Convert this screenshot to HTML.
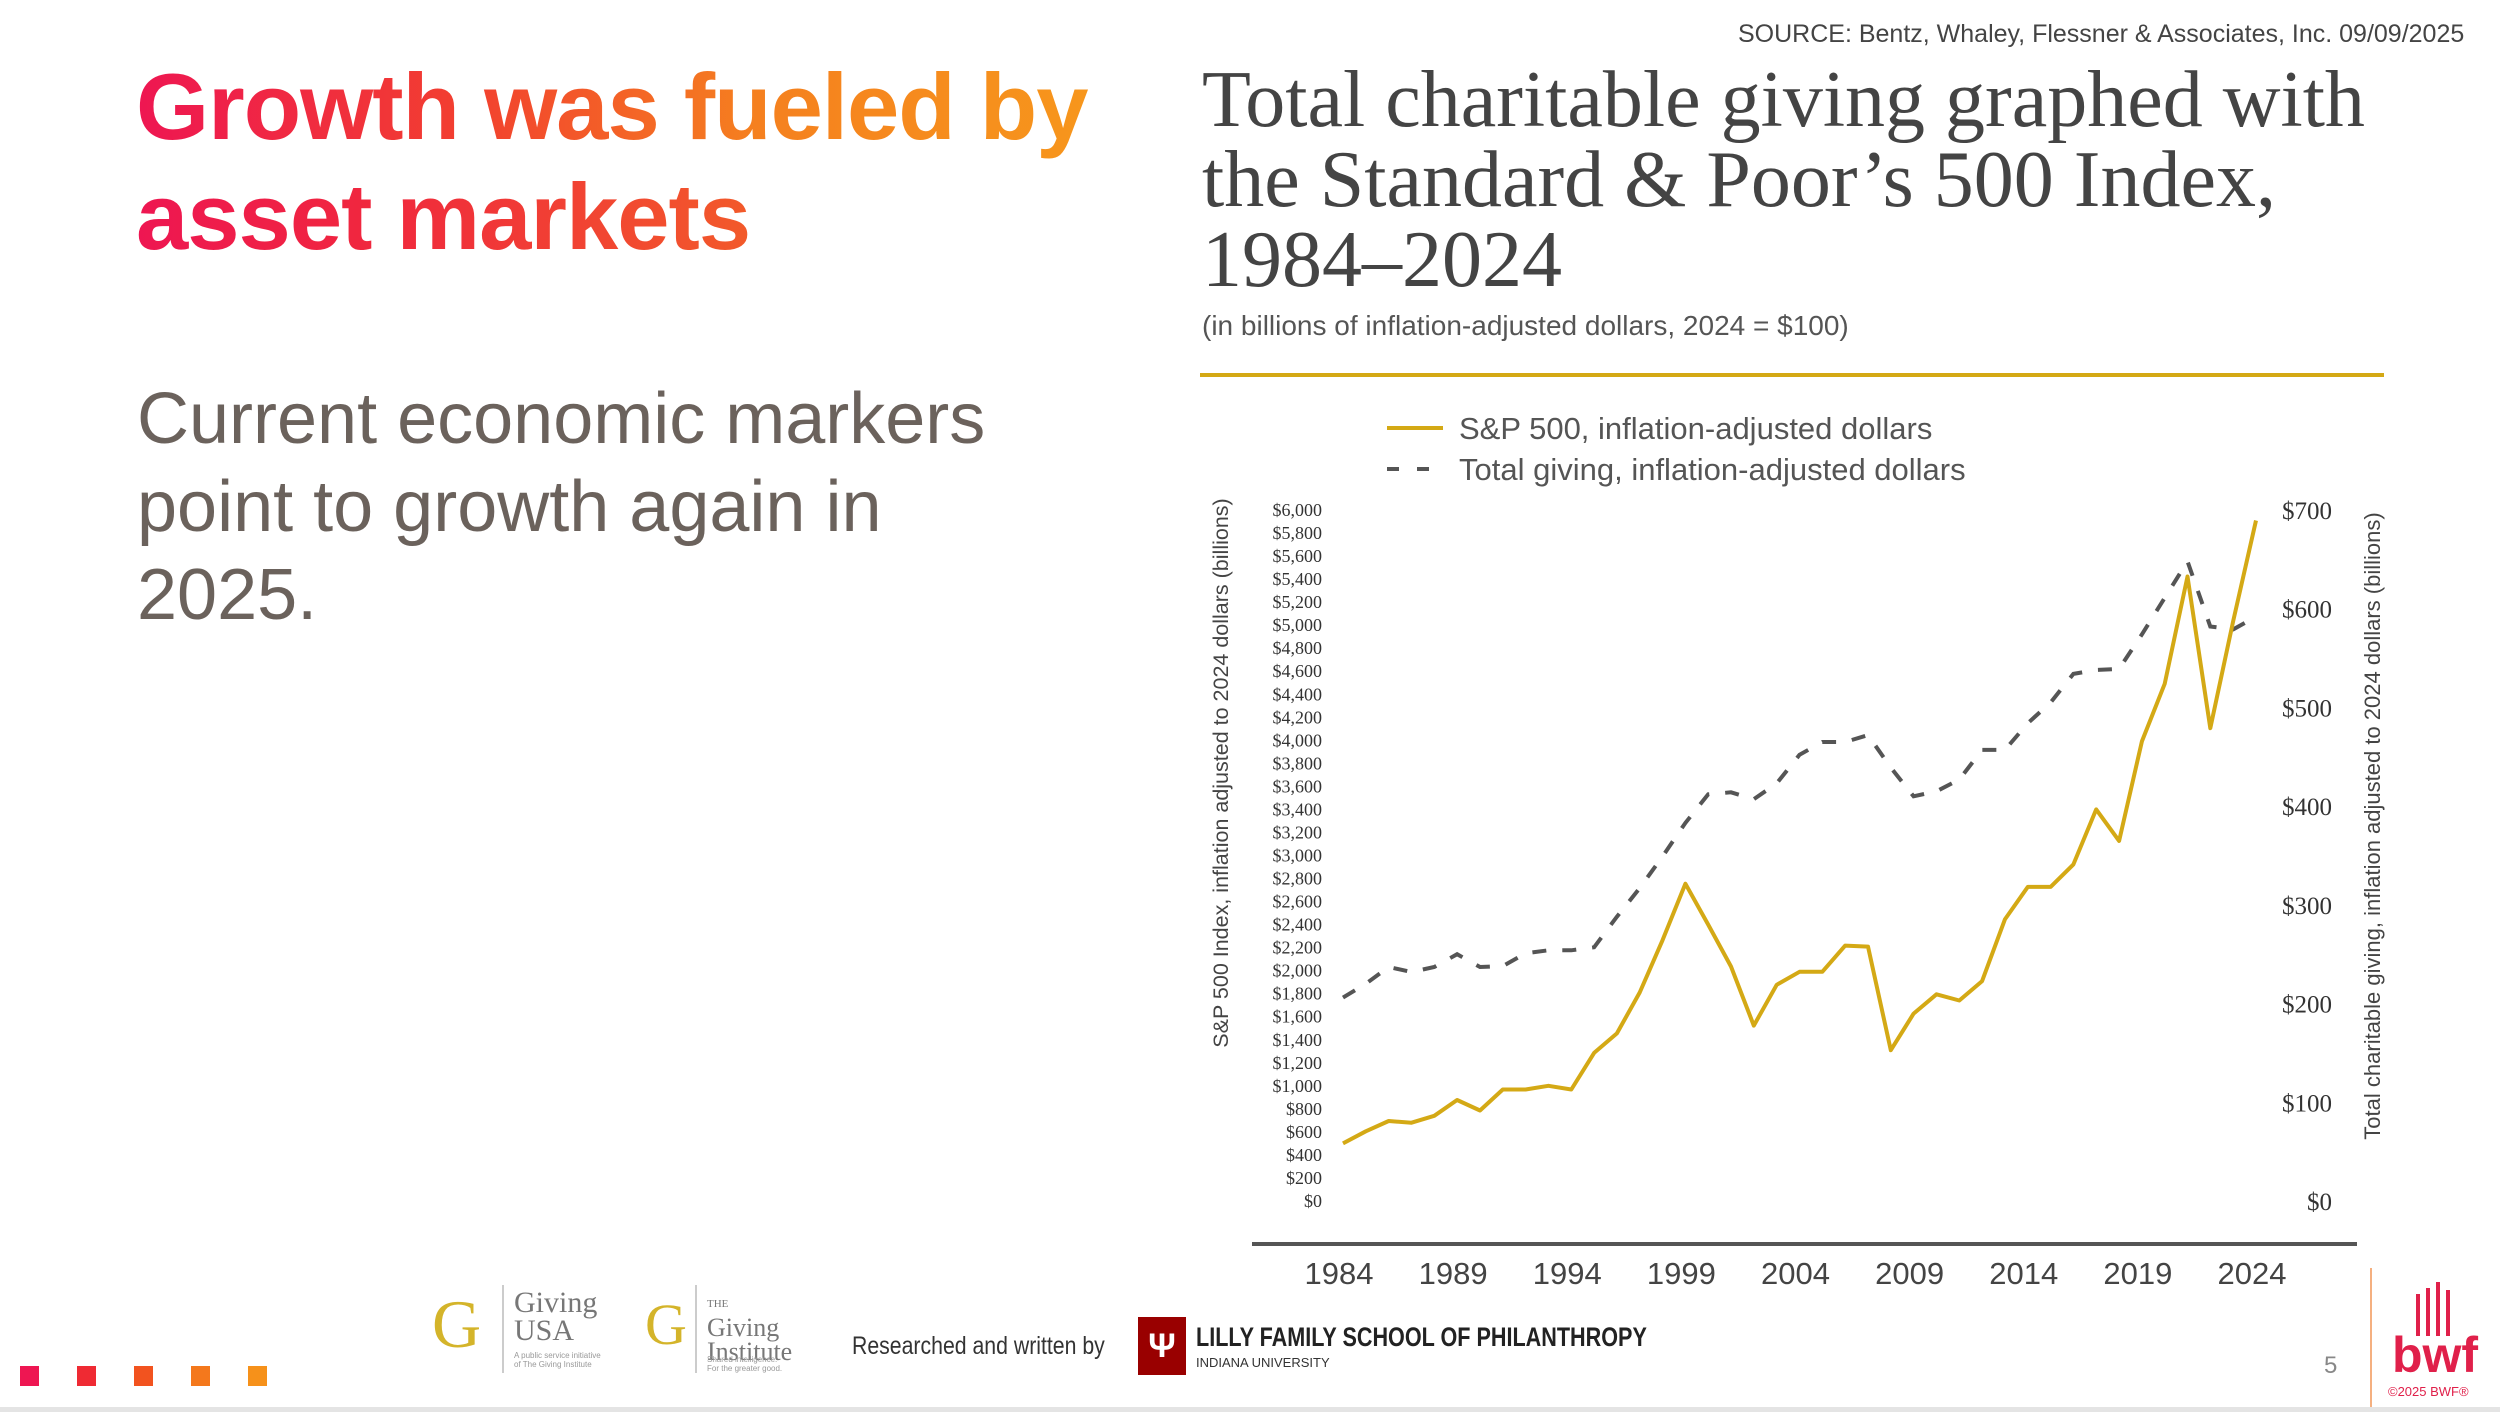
<!DOCTYPE html>
<html><head><meta charset="utf-8">
<style>
html,body{margin:0;padding:0;background:#fff;}
body{width:2500px;height:1412px;overflow:hidden;position:relative;font-family:"Liberation Sans",sans-serif;}
.abs{position:absolute;}
.hl{font-weight:bold;font-size:94px;line-height:110px;letter-spacing:-1px;}
.g1{background:linear-gradient(90deg,#ee1652 0%,#f2402f 35%,#f5801f 65%,#f7961c 100%);-webkit-background-clip:text;background-clip:text;color:transparent;}
.g2{background:linear-gradient(90deg,#ee1652 0%,#f0283d 40%,#f25a2a 100%);-webkit-background-clip:text;background-clip:text;color:transparent;}
</style></head><body>
<div class="abs" style="left:1738px;top:20px;font-size:25px;color:#444;">SOURCE: Bentz, Whaley, Flessner &amp; Associates, Inc. 09/09/2025</div>
<div class="abs hl" style="left:136px;top:52px;width:1000px;"><span class="g1">Growth was fueled by</span><br><span class="g2">asset markets</span></div>
<div class="abs" style="left:137px;top:375px;font-size:72px;line-height:88px;color:#6b625c;">Current economic markers<br>point to growth again in<br>2025.</div>
<div class="abs" style="left:1202px;top:60px;font-family:'Liberation Serif',serif;font-size:80px;line-height:80px;color:#444;letter-spacing:0px;">Total charitable giving graphed with<br>the Standard &amp; Poor’s 500 Index,<br>1984–2024</div>
<div class="abs" style="left:1202px;top:310px;font-size:28px;color:#555;">(in billions of inflation-adjusted dollars, 2024 = $100)</div>

<svg class="abs" style="left:0;top:0" width="2500" height="1412" viewBox="0 0 2500 1412" id="chart">
<line x1="1200" y1="375" x2="2384" y2="375" stroke="#d4a915" stroke-width="4"/>
<g>
<line x1="1387" y1="428" x2="1443" y2="428" stroke="#d4a915" stroke-width="4"/>
<text x="1459" y="439" font-size="31" fill="#555">S&amp;P 500, inflation-adjusted dollars</text>
<line x1="1387" y1="469" x2="1443" y2="469" stroke="#555" stroke-width="4" stroke-dasharray="12,18"/>
<text x="1459" y="480" font-size="31" fill="#555">Total giving, inflation-adjusted dollars</text>
</g>
<line x1="1252" y1="1244" x2="2357" y2="1244" stroke="#555" stroke-width="4"/>
<text transform="translate(1228,773) rotate(-90)" text-anchor="middle" font-size="21.5" fill="#444">S&amp;P 500 Index, inflation adjusted to 2024 dollars (billions)</text>
<text transform="translate(2380,826) rotate(-90)" text-anchor="middle" font-size="22" fill="#444">Total charitable giving, inflation adjusted to 2024 dollars (billions)</text>
<g id="lt"></g><g id="rt"></g><g id="xt"></g>
<path id="giving" fill="none" stroke="#555" stroke-width="4" stroke-dasharray="14,16"/>
<path id="sp" fill="none" stroke="#d4a915" stroke-width="4" stroke-linejoin="round"/>
</svg>

<div class="abs" style="left:20px;top:1366px;">
<div class="abs" style="left:0;top:0;width:19px;height:20px;background:#ee1652"></div>
<div class="abs" style="left:57px;top:0;width:19px;height:20px;background:#ef2a33"></div>
<div class="abs" style="left:114px;top:0;width:19px;height:20px;background:#f2531f"></div>
<div class="abs" style="left:171px;top:0;width:19px;height:20px;background:#f4781c"></div>
<div class="abs" style="left:228px;top:0;width:19px;height:20px;background:#f6911a"></div>
</div>
<div class="abs" style="left:432px;top:1285px;width:180px;height:90px;">
<div class="abs" style="left:0;top:0;font-family:'Liberation Serif',serif;font-size:68px;color:#d4b42a;">G</div>
<div class="abs" style="left:70px;top:0;width:2px;height:88px;background:#ccc"></div>
<div class="abs" style="left:82px;top:4px;font-family:'Liberation Serif',serif;font-size:30px;line-height:28px;color:#777;">Giving<br>USA</div>
<div class="abs" style="left:82px;top:66px;font-size:8px;color:#999;line-height:9px;">A public service initiative<br>of The Giving Institute</div>
</div>
<div class="abs" style="left:645px;top:1285px;width:180px;height:90px;">
<div class="abs" style="left:0;top:6px;font-family:'Liberation Serif',serif;font-size:58px;color:#d4b42a;">G</div>
<div class="abs" style="left:50px;top:0;width:2px;height:88px;background:#ccc"></div>
<div class="abs" style="left:62px;top:2px;font-family:'Liberation Serif',serif;font-size:26px;line-height:24px;color:#777;"><span style="font-size:11px">THE</span><br>Giving<br>Institute</div>
<div class="abs" style="left:62px;top:70px;font-size:8px;color:#999;line-height:9px;">Shared intelligence.<br>For the greater good.</div>
</div>
<div class="abs" style="left:852px;top:1332px;font-size:25px;color:#333;transform:scaleX(0.85);transform-origin:left;">Researched and written by</div>
<div class="abs" style="left:1138px;top:1317px;width:48px;height:58px;background:#990000;color:#fff;font-weight:bold;font-size:34px;text-align:center;line-height:58px;">Ψ</div>
<div class="abs" style="left:1196px;top:1322px;font-size:27px;font-weight:bold;color:#222;transform:scaleX(0.8);transform-origin:left;">LILLY FAMILY SCHOOL OF PHILANTHROPY</div>
<div class="abs" style="left:1196px;top:1355px;font-size:13px;color:#333;">INDIANA UNIVERSITY</div>
<div class="abs" style="left:2324px;top:1352px;font-size:24px;color:#888;">5</div>
<div class="abs" style="left:2370px;top:1268px;width:2px;height:144px;background:#f5b080;"></div>
<div class="abs" style="left:2388px;top:1280px;width:100px;height:120px;">
<div class="abs" style="left:28px;top:14px;width:4px;height:42px;background:#e0204a"></div>
<div class="abs" style="left:38px;top:8px;width:4px;height:48px;background:#e0204a"></div>
<div class="abs" style="left:48px;top:2px;width:4px;height:54px;background:#e0204a"></div>
<div class="abs" style="left:58px;top:10px;width:4px;height:46px;background:#e0204a"></div>
<div class="abs" style="left:4px;top:46px;font-size:50px;font-weight:bold;color:#e0204a;">bwf</div>
<div class="abs" style="left:0;top:104px;font-size:13px;color:#e0204a;">©2025 BWF®</div>
</div>
<div class="abs" style="left:0;top:1407px;width:2500px;height:5px;background:#e4e4e4;"></div>

<script>
const years=[1984,1985,1986,1987,1988,1989,1990,1991,1992,1993,1994,1995,1996,1997,1998,1999,2000,2001,2002,2003,2004,2005,2006,2007,2008,2009,2010,2011,2012,2013,2014,2015,2016,2017,2018,2019,2020,2021,2022,2023,2024];
const sp500=[500,605,695,680,740,877,786,968,968,1000,968,1286,1455,1810,2264,2755,2400,2036,1523,1877,1990,1990,2218,2209,1309,1627,1795,1741,1909,2445,2727,2727,2923,3400,3127,3991,4491,5423,4105,5036,5909];
const giving=[206,220,237,232,237,250,237,238,251,254,254,257,288,317,349,383,412,414,407,423,452,465,465,472,439,410,415,427,457,457,484,505,534,538,539,574,611,648,582,579,592];
const yearTicks=[1984,1989,1994,1999,2004,2009,2014,2019,2024];
const rightTicks=[0,100,200,300,400,500,600,700];
const leftTicks=[];for(let v=0;v<=6000;v+=200)leftTicks.push(v);

const NS='http://www.w3.org/2000/svg';
const X0=1343,X1=2256,YB=1201,YT=510;
const xs=y=>X0+(y-1984)/(2024-1984)*(X1-X0);
const yl=v=>YB-v/6000*(YB-YT);
const yr=v=>YB-v/700*(YB-YT);
function fmt(v){return '$'+v.toLocaleString('en-US');}
const lt=document.getElementById('lt');
leftTicks.forEach(v=>{const t=document.createElementNS(NS,'text');
t.setAttribute('x',1322);t.setAttribute('y',yl(v)+6);t.setAttribute('text-anchor','end');t.setAttribute('font-size','18');t.setAttribute('fill','#333');
t.setAttribute('font-family','Liberation Serif, serif');


t.textContent=fmt(v);lt.appendChild(t);});
const rt=document.getElementById('rt');
rightTicks.forEach(v=>{const t=document.createElementNS(NS,'text');
t.setAttribute('x',2332);t.setAttribute('y',yr(v)+9);t.setAttribute('text-anchor','end');t.setAttribute('font-size','25');t.setAttribute('fill','#333');
t.setAttribute('font-family','Liberation Serif, serif');


t.textContent=fmt(v);rt.appendChild(t);});
const xt=document.getElementById('xt');
yearTicks.forEach(v=>{const t=document.createElementNS(NS,'text');
t.setAttribute('x',xs(v)-4);t.setAttribute('y',1284);t.setAttribute('text-anchor','middle');t.setAttribute('font-size','31');t.setAttribute('fill','#444');


t.textContent=v;xt.appendChild(t);});
document.getElementById('sp').setAttribute('d',years.map((y,i)=>(i?'L':'M')+xs(y).toFixed(1)+','+yl(sp500[i]).toFixed(1)).join(''));
document.getElementById('giving').setAttribute('d',years.map((y,i)=>(i?'L':'M')+xs(y).toFixed(1)+','+yr(giving[i]).toFixed(1)).join(''));
</script>
</body></html>
